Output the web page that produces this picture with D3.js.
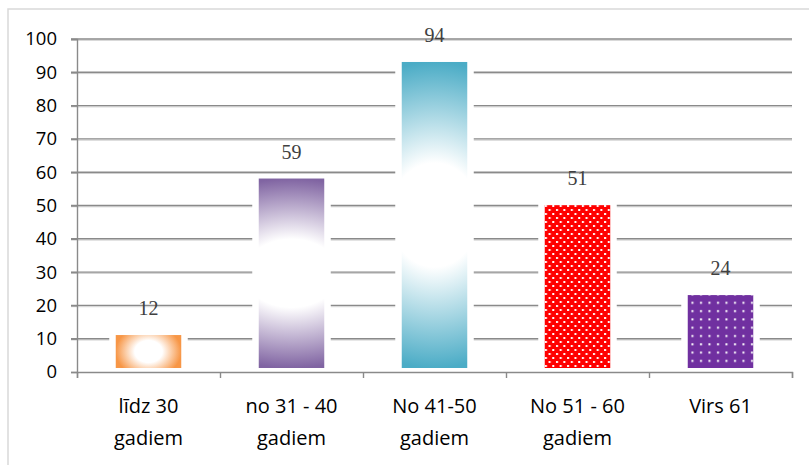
<!DOCTYPE html>
<html lang="lv">
<head>
<meta charset="UTF-8">
<title>Vecuma grupas</title>
<script src="https://d3js.org/d3.v7.min.js"></script>
<style>
    body { margin: 0; background: #fff; }
    .tick-label { font-family: "Open Sans", sans-serif; font-size: 18.5px; fill: #000; }
    .cat-label { font-family: "Open Sans", sans-serif; font-size: 20px; fill: #000; }
    .val-label { font-family: "Liberation Serif", "Times New Roman", serif; font-size: 20px; fill: #404040; }
</style>
</head>
<body>
<script>
    // data
    var categories = [["līdz 30", "gadiem"], ["no 31 - 40", "gadiem"], ["No 41-50", "gadiem"], ["No 51 - 60", "gadiem"], ["Virs 61"]];
    var values = [12, 59, 94, 51, 24];
    var yTicks = [0, 10, 20, 30, 40, 50, 60, 70, 80, 90, 100];

    var w = 809, h = 465;
    var plotLeft = 77, plotRight = 792, plotTop = 39, plotBottom = 372;

    var svg = d3.select("body").append("svg")
        .attr("width", w)
        .attr("height", h);

    var defs = svg.append("defs");

    // centre gradients for the first three bars
    function centreGradient(id, color, sx, sy, whiteStop) {
        var g = defs.append("radialGradient")
            .attr("id", id)
            .attr("cx", 0.5).attr("cy", 0.5).attr("r", 0.5)
            .attr("gradientTransform", "translate(0.5,0.5) scale(" + sx + "," + sy + ") translate(-0.5,-0.5)");
        g.append("stop").attr("offset", 0).attr("stop-color", "#fff");
        g.append("stop").attr("offset", whiteStop).attr("stop-color", "#fff");
        g.append("stop").attr("offset", 1).attr("stop-color", color);
    }
    centreGradient("g0", "#F79646", 1, 1.6, 0.42);
    centreGradient("g1", "#8064A2", 4, 1, 0.36);
    centreGradient("g2", "#4BACC6", 4, 1, 0.34);

    // dotted patterns for the last two bars
    var p3 = defs.append("pattern").attr("id", "p3")
        .attr("patternUnits", "userSpaceOnUse").attr("width", 7.4).attr("height", 8);
    p3.append("rect").attr("width", 7.4).attr("height", 8).attr("fill", "#FF0000");
    p3.append("rect").attr("x", 1).attr("y", 1).attr("width", 2).attr("height", 2).attr("fill", "#fff");
    p3.append("rect").attr("x", 4.7).attr("y", 5).attr("width", 2).attr("height", 2).attr("fill", "#fff");

    var p4 = defs.append("pattern").attr("id", "p4")
        .attr("patternUnits", "userSpaceOnUse").attr("width", 8.5).attr("height", 8.3);
    p4.append("rect").attr("width", 8.5).attr("height", 8.3).attr("fill", "#7030A0");
    p4.append("rect").attr("x", 3).attr("y", 3).attr("width", 2).attr("height", 2).attr("fill", "#fff");

    var fills = ["url(#g0)", "url(#g1)", "url(#g2)", "url(#p3)", "url(#p4)"];

    // chart area border
    svg.append("rect")
        .attr("x", 8).attr("y", 9)
        .attr("width", 830).attr("height", 500)
        .attr("fill", "none")
        .attr("stroke", "#d9d9d9")
        .attr("stroke-width", 1.5);

    var xScale = d3.scaleBand()
        .domain(d3.range(values.length))
        .range([plotLeft, plotRight])
        .paddingInner(0.5)
        .paddingOuter(0.25);

    var xEdges = d3.scaleLinear()
        .domain([0, values.length])
        .range([plotLeft, plotRight]);

    var yScale = d3.scaleLinear()
        .domain([0, 100])
        .range([plotBottom, plotTop]);

    // gridlines
    var grid = svg.append("g");
    grid.selectAll(".shade")
        .data(yTicks.slice(1))
        .enter().append("line")
        .attr("x1", plotLeft - 6).attr("x2", plotRight)
        .attr("y1", function (d) { return yScale(d) + 1.3; })
        .attr("y2", function (d) { return yScale(d) + 1.3; })
        .attr("stroke", "#d0d0d0").attr("stroke-width", 1);
    grid.selectAll(".main")
        .data(yTicks.slice(1))
        .enter().append("line")
        .attr("x1", plotLeft - 6).attr("x2", plotRight)
        .attr("y1", function (d) { return yScale(d); })
        .attr("y2", function (d) { return yScale(d); })
        .attr("stroke", "#8a8a8a").attr("stroke-width", 1.4);

    // y axis
    var yAxis = d3.axisLeft(yScale).tickValues(yTicks).tickSize(6).tickPadding(14);
    var yg = svg.append("g")
        .attr("transform", "translate(" + plotLeft + ",0)")
        .call(yAxis);
    yg.select(".domain").attr("stroke", "#8a8a8a").attr("stroke-width", 1.4);
    yg.selectAll(".tick line").attr("stroke", "#8a8a8a").attr("stroke-width", 1.4);
    yg.selectAll(".tick text").attr("class", "tick-label");

    // white gaps behind bars
    svg.selectAll(".gap")
        .data(values)
        .enter().append("rect")
        .attr("x", function (d, i) { return xScale(i) - 3.5; })
        .attr("width", xScale.bandwidth() + 7)
        .attr("y", function (d) { return yScale(d); })
        .attr("height", function (d) { return plotBottom - yScale(d); })
        .attr("fill", "#fff");

    // bars
    svg.selectAll(".bar")
        .data(values)
        .enter().append("rect")
        .attr("x", function (d, i) { return xScale(i) + 3; })
        .attr("width", xScale.bandwidth() - 6)
        .attr("y", function (d) { return yScale(d) + 3; })
        .attr("height", function (d) { return plotBottom - yScale(d) - 7; })
        .attr("fill", function (d, i) { return fills[i]; });

    // x axis
    var xAxis = d3.axisBottom(xEdges).ticks(values.length).tickFormat("").tickSize(6);
    var xg = svg.append("g")
        .attr("transform", "translate(0," + plotBottom + ")")
        .call(xAxis);
    xg.select(".domain").attr("stroke", "#8a8a8a").attr("stroke-width", 1.4);
    xg.selectAll(".tick line").attr("stroke", "#8a8a8a").attr("stroke-width", 1.4);

    // category labels
    var cat = svg.selectAll(".cat")
        .data(categories)
        .enter().append("text")
        .attr("class", "cat-label")
        .attr("text-anchor", "middle")
        .attr("x", function (d, i) { return xScale(i) + xScale.bandwidth() / 2; })
        .attr("y", 413);
    cat.selectAll("tspan")
        .data(function (d) { return d; })
        .enter().append("tspan")
        .attr("x", function () { return d3.select(this.parentNode).attr("x"); })
        .attr("dy", function (d, j) { return j === 0 ? 0 : 32; })
        .text(function (d) { return d; });

    // value labels
    svg.selectAll(".val")
        .data(values)
        .enter().append("text")
        .attr("class", "val-label")
        .attr("text-anchor", "middle")
        .attr("x", function (d, i) { return xScale(i) + xScale.bandwidth() / 2; })
        .attr("y", function (d) { return yScale(d) - 17; })
        .text(function (d) { return d; });
</script>
</body>
</html>
